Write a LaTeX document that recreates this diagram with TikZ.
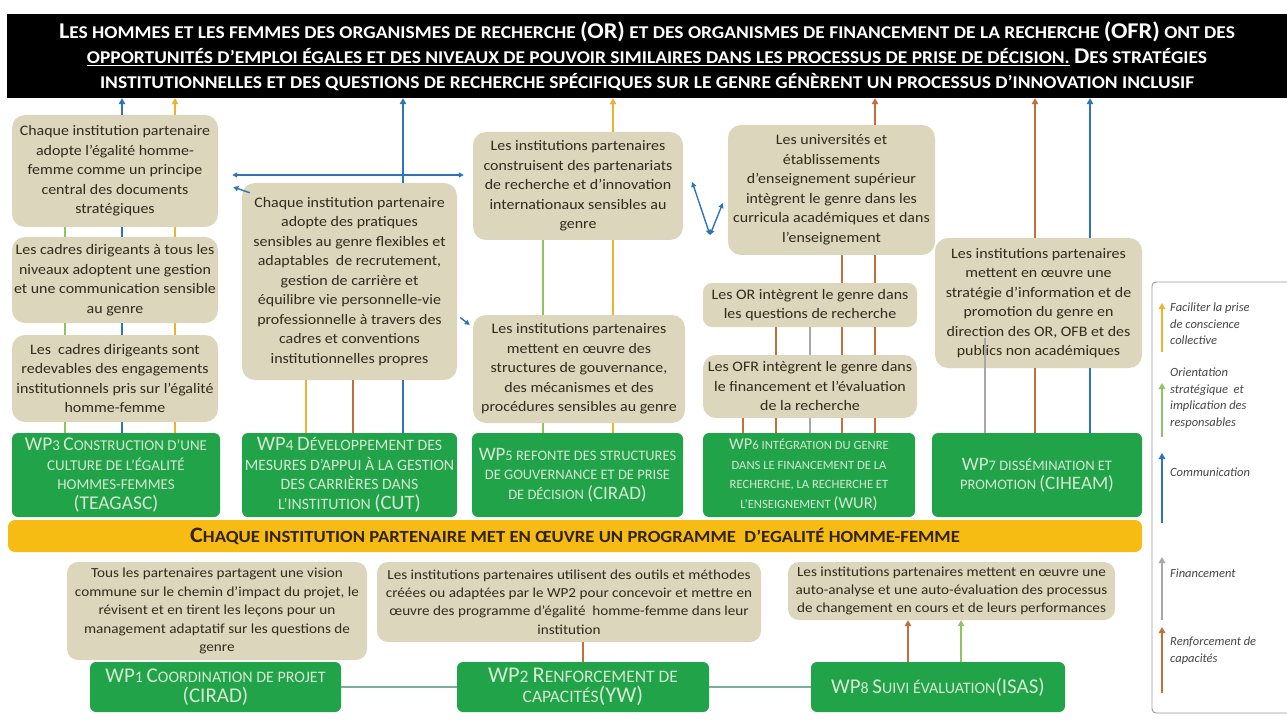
\documentclass[tikz,border=0pt]{standalone}
\usepackage{fontspec}
\setmainfont{Carlito}
\newfontfamily\boxfont[FakeStretch=1.1]{Carlito}
\newfontfamily\bannerfont[FakeStretch=1.08]{Carlito}
\newfontfamily\barfont[FakeStretch=1.1]{Carlito}
\usetikzlibrary{arrows.meta}

\definecolor{boxbg}{RGB}{220,214,189}
\definecolor{boxtx}{RGB}{48,43,26}
\definecolor{wpbg}{RGB}{33,163,74}
\definecolor{wptx}{RGB}{214,232,210}
\definecolor{barbg}{RGB}{246,188,20}
\definecolor{bartx}{RGB}{50,35,10}
\definecolor{cyel}{RGB}{238,178,48}
\definecolor{cgrn}{RGB}{143,195,99}
\definecolor{cblu}{RGB}{46,117,182}
\definecolor{cgry}{RGB}{168,168,168}
\definecolor{cbrn}{RGB}{196,110,58}
\definecolor{cteal}{RGB}{118,176,150}
\definecolor{legtx}{RGB}{70,70,70}

% large initials for the hand-made small capitals
\newcommand\Bc[1]{{\fontsize{22.5}{22.5}\selectfont #1}}
\newcommand\Yc[1]{{\fontsize{22}{22}\selectfont #1}}
\def\GcSize{19}
\newcommand\Gc[1]{{\fontsize{\GcSize}{\GcSize}\selectfont #1}}
% work-package font: small-capital size, then size of the initials
\newcommand\wpfont[2]{\def\GcSize{#2}\fontsize{#1}{19.5}\selectfont}
% vertical connector between two node borders at the abscissa of a coordinate
\newcommand\vl[4]{\draw[#1] (#2 -| #4) -- (#3 -| #4);}

\begin{document}
\begin{tikzpicture}[x=1pt,y=-1pt,
  >={Triangle[length=6pt,width=6.5pt]},
  stepbox/.style={fill=boxbg, rounded corners=13pt, align=center, text=boxtx,
    inner sep=2pt, font=\boxfont\fontsize{14.5}{19.5}\selectfont},
  lowbox/.style={stepbox, rounded corners=11pt, font=\boxfont\fontsize{13.8}{18.4}\selectfont},
  wpbox/.style={fill=wpbg, rounded corners=6pt, align=center, text=wptx,
    inner sep=1pt, font=\wpfont{15}{19.5}},
  cnx/.style={line width=2.6pt},
  cy/.style={cnx, draw=cyel},
  cg/.style={cnx, draw=cgrn},
  cb/.style={cnx, draw=cblu},
  cr/.style={cnx, draw=cgry},
  cn/.style={cnx, draw=cbrn},
  fineblue/.style={line width=1.4pt, draw=cblu, >={Triangle[length=5pt,width=5pt]}},
  flow/.style={line width=1.6pt, draw=cteal},
  legtext/.style={align=left, text=legtx, inner sep=0pt,
    font=\itshape\fontsize{12.5}{16.5}\selectfont}]

\useasboundingbox (0,0) rectangle (1287,727);
\fill[white] (0,0) rectangle (1287,727);

% ---------- goal banner ----------
\node[fill=black, minimum width=1280pt, minimum height=84pt, inner sep=0pt,
  text=white, align=center, font=\bannerfont\bfseries\fontsize{18}{25}\selectfont] (banner) at (647,56)
  {\Bc{L}ES HOMMES ET LES FEMMES DES ORGANISMES DE RECHERCHE \Bc{(OR)} ET DES ORGANISMES DE FINANCEMENT DE LA RECHERCHE \Bc{(OFR)} ONT DES\\
   \underline{OPPORTUNITÉS D’EMPLOI ÉGALES ET DES NIVEAUX DE POUVOIR SIMILAIRES DANS LES PROCESSUS DE PRISE DE DÉCISION.} \Bc{D}ES STRATÉGIES\\
   INSTITUTIONNELLES ET DES QUESTIONS DE RECHERCHE SPÉCIFIQUES SUR LE GENRE GÉNÈRENT UN PROCESSUS D’INNOVATION INCLUSIF};

% ---------- column WP3 ----------
\node[stepbox, minimum width=206pt, minimum height=112pt] (A1) at (115,171)
  {Chaque institution partenaire\\adopte l’égalité homme-\\femme comme un principe\\central des documents\\stratégiques};
\node[stepbox, minimum width=206pt, minimum height=86pt] (A2) at (115,280)
  {Les cadres dirigeants à tous les\\niveaux adoptent une gestion\\et une communication sensible\\au genre};
\node[stepbox, minimum width=206pt, minimum height=87pt] (A3) at (115,378.5)
  {Les\ \ cadres dirigeants sont\\redevables des engagements\\institutionnels pris sur l’égalité\\homme-femme};
\node[wpbox, minimum width=208pt, minimum height=84pt] (WP3) at (116,475)
  {\Gc{WP}3 \Gc{C}ONSTRUCTION D’UNE\\CULTURE DE L’ÉGALITÉ\\HOMMES-FEMMES\\\Gc{(TEAGASC)}};

% ---------- column WP4 ----------
\node[stepbox, minimum width=215pt, minimum height=197pt] (B1) at (349.5,281.5)
  {Chaque institution partenaire\\adopte des pratiques\\sensibles au genre flexibles et\\adaptables\ \ de recrutement,\\gestion de carrière et\\équilibre vie personnelle-vie\\professionnelle à travers des\\cadres et conventions\\institutionnelles propres};
\node[wpbox, font=\wpfont{15.8}{20.5}, minimum width=215pt, minimum height=84pt] (WP4) at (349.5,475)
  {\Gc{WP}4 \Gc{D}ÉVELOPPEMENT DES\\MESURES D’APPUI À LA GESTION\\DES CARRIÈRES DANS\\L’INSTITUTION \Gc{(CUT)}};

% ---------- column WP5 ----------
\node[stepbox, minimum width=210pt, minimum height=108pt] (C1) at (578,186)
  {Les institutions partenaires\\construisent des partenariats\\de recherche et d’innovation\\internationaux sensibles au\\genre};
\node[stepbox, minimum width=212pt, minimum height=108pt] (C2) at (579,369)
  {Les institutions partenaires\\mettent en œuvre des\\structures de gouvernance,\\des mécanismes et des\\procédures sensibles au genre};
\node[wpbox, font=\wpfont{14.5}{19}, minimum width=211pt, minimum height=84pt] (WP5) at (577.5,475)
  {\Gc{WP}5 REFONTE DES STRUCTURES\\DE GOUVERNANCE ET DE PRISE\\DE DÉCISION \Gc{(CIRAD)}};

% ---------- column WP6 ----------
\node[stepbox, minimum width=207pt, minimum height=130pt] (D1) at (831.5,190)
  {Les universités et\\établissements\\d’enseignement supérieur\\intègrent le genre dans les\\curricula académiques et dans\\l’enseignement};
\node[stepbox, rounded corners=9pt, minimum width=214pt, minimum height=44pt] (D2) at (810,305)
  {Les OR intègrent le genre dans\\les questions de recherche};
\node[stepbox, minimum width=214pt, minimum height=63pt] (D3) at (810,386.5)
  {Les OFR intègrent le genre dans\\le financement et l’évaluation\\de la recherche};
\node[wpbox, font=\wpfont{12.6}{16.5}, minimum width=212pt, minimum height=84pt] (WP6) at (809,475)
  {\Gc{WP}6 INTÉGRATION DU GENRE\\DANS LE FINANCEMENT DE LA\\RECHERCHE, LA RECHERCHE ET\\L’ENSEIGNEMENT \Gc{(WUR)}};

% ---------- column WP7 ----------
\node[stepbox, minimum width=207pt, minimum height=130pt] (E1) at (1038.5,303)
  {Les institutions partenaires\\mettent en œuvre une\\stratégie d’information et de\\promotion du genre en\\direction des OR, OFB et des\\publics non académiques};
\node[wpbox, font=\wpfont{14.5}{19}, minimum width=210pt, minimum height=84pt] (WP7) at (1037,475)
  {\Gc{WP}7 DISSÉMINATION ET\\PROMOTION \Gc{(CIHEAM)}};

% ---------- programme bar ----------
\node[fill=barbg, rounded corners=7pt, minimum width=1134pt, minimum height=32pt, inner sep=0pt,
  text=bartx, font=\barfont\bfseries\fontsize{17}{17}\selectfont] (bar) at (575,536)
  {\Yc{C}HAQUE INSTITUTION PARTENAIRE MET EN ŒUVRE UN PROGRAMME\ \ D’EGALITÉ HOMME-FEMME};

% ---------- transversal work packages ----------
\node[lowbox, minimum width=300pt, minimum height=98pt] (F1) at (217,611)
  {Tous les partenaires partagent une vision\\commune sur le chemin d’impact du projet, le\\révisent et en tirent les leçons pour un\\management adaptatif sur les questions de\\genre};
\node[lowbox, minimum width=384pt, minimum height=80pt] (F2) at (569,602)
  {Les institutions partenaires utilisent des outils et méthodes\\créées ou adaptées par le WP2 pour concevoir et mettre en\\œuvre des programme d’égalité\ \ homme-femme dans leur\\institution};
\node[lowbox, minimum width=327pt, minimum height=58pt] (F3) at (951.5,591)
  {Les institutions partenaires mettent en œuvre une\\auto-analyse et une auto-évaluation des processus\\de changement en cours et de leurs performances};
\node[wpbox, font=\wpfont{16}{21}, minimum width=251pt, minimum height=50pt] (WP1) at (215.5,687)
  {\Gc{WP}1 \Gc{C}OORDINATION DE PROJET\\\Gc{(CIRAD)}};
\node[wpbox, font=\wpfont{17.5}{22.5}, minimum width=252pt, minimum height=50pt] (WP2) at (583,687)
  {\Gc{WP}2 \Gc{R}ENFORCEMENT DE\\CAPACITÉS\Gc{(YW)}};
\node[wpbox, font=\wpfont{16}{21}, minimum width=254pt, minimum height=50pt] (WP8) at (938,687)
  {\Gc{WP}8 \Gc{S}UIVI ÉVALUATION\Gc{(ISAS)}};

% ---------- abscissae of the vertical connectors ----------
\foreach \xx in {65,122,175,306,353,403,543,613,743,776,810,842,875,985,1035,1090,583,908,961}
  \coordinate (c\xx) at (\xx,0);

% column WP3
\vl{cb,->}{A1.north}{banner.south}{c122}
\vl{cy,->}{A1.north}{banner.south}{c175}
\vl{cg}{A1.south}{A2.north}{c65}
\vl{cb}{A1.south}{A2.north}{c122}
\vl{cy}{A1.south}{A2.north}{c175}
\vl{cg}{A2.south}{A3.north}{c65}
\vl{cb}{A2.south}{A3.north}{c122}
\vl{cy}{A2.south}{A3.north}{c175}
\vl{cg}{A3.south}{WP3.north}{c65}
\vl{cb}{A3.south}{WP3.north}{c122}
\vl{cy}{A3.south}{WP3.north}{c175}

% column WP4
\vl{cb,->}{B1.north}{banner.south}{c403}
\vl{cy}{B1.south}{WP4.north}{c306}
\vl{cn}{B1.south}{WP4.north}{c353}
\vl{cb}{B1.south}{WP4.north}{c403}

% column WP5
\vl{cy,->}{C1.north}{banner.south}{c613}
\vl{cg}{C1.south}{C2.north}{c543}
\vl{cy}{C1.south}{C2.north}{c613}
\vl{cg}{C2.south}{WP5.north}{c543}
\vl{cy}{C2.south}{WP5.north}{c613}

% column WP6
\vl{cn,->}{D1.north}{banner.south}{c875}
\vl{cn}{D1.south}{D2.north}{c842}
\vl{cn}{D1.south}{D2.north}{c875}
\vl{cn}{D2.south}{D3.north}{c776}
\vl{cr}{D2.south}{D3.north}{c810}
\vl{cn}{D2.south}{D3.north}{c842}
\vl{cn}{D2.south}{D3.north}{c875}
\vl{cn}{D3.south}{WP6.north}{c743}
\vl{cn}{D3.south}{WP6.north}{c776}
\vl{cr}{D3.south}{WP6.north}{c810}
\vl{cn}{D3.south}{WP6.north}{c842}
\vl{cn}{D3.south}{WP6.north}{c875}

% column WP7
\vl{cn,->}{E1.north}{banner.south}{c1035}
\vl{cb,->}{E1.north}{banner.south}{c1090}
\vl{cn}{E1.south}{WP7.north}{c1035}
\vl{cb}{E1.south}{WP7.north}{c1090}
\coordinate (greytop) at (985,338);
\draw[cr] (WP7.north -| greytop) -- (greytop);

% communication links between outcomes
\coordinate (hy) at (0,175);
\draw[fineblue,<->,shorten <=14pt,shorten >=9pt] (A1.east |- hy) -- (C1.west |- hy);
\draw[fineblue,->] ([shift={(8,10)}]B1.north west) -- ([shift={(15,16)}]A1.east);
\draw[fineblue,->] ([shift={(3,36)}]B1.east) -- ([shift={(-3,-44)}]C2.west);
\coordinate (vtx) at (710,235);
\draw[fineblue,<->] ([shift={(9,-4)}]C1.east) -- (vtx);
\draw[fineblue,<->] (vtx) -- ([shift={(-5,13)}]D1.west);

% transversal packages
\draw[flow] (WP1.east) -- (WP2.west);
\draw[flow] (WP2.east) -- (WP8.west);
\vl{cn}{WP2.north}{F2.south}{c583}
\vl{cn,->}{WP8.north}{F3.south}{c908}
\vl{cg,->}{WP8.north}{F3.south}{c961}

% ---------- legend ----------
\draw[draw=gray!80, line width=0.9pt, rounded corners=4pt]
  (1287,282) -- (1152,282) -- (1152,713) -- (1287,713);
\draw[cy,->] (1162,352) -- (1162,303);
\draw[cg,->] (1162,437) -- (1162,383);
\draw[cb,->] (1162,523) -- (1162,453);
\draw[cr,->] (1162,620) -- (1162,557);
\draw[cn,->] (1162,693) -- (1162,627);
\node[legtext, anchor=north west] (lg1) at (1170,303) {Faciliter la prise\\de conscience\\collective};
\node[legtext, anchor=north west] (lg2) at (1170,368) {Orientation\\stratégique\ \ et\\implication des\\responsables};
\node[legtext, anchor=west] (lg3) at (1170,472) {Communication};
\node[legtext, anchor=west] (lg4) at (1170,573) {Financement};
\node[legtext, anchor=north west] (lg5) at (1170,637) {Renforcement de\\capacités};
\end{tikzpicture}
\end{document}
